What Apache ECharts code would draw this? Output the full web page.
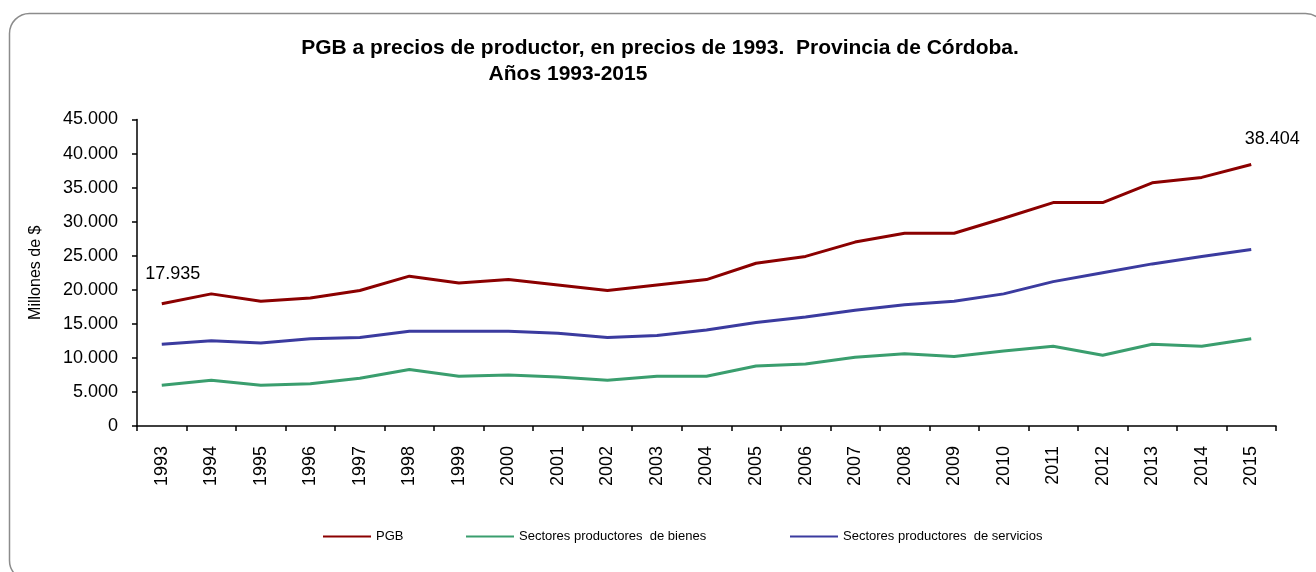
<!DOCTYPE html>
<html>
<head>
<meta charset="utf-8">
<script src="https://cdn.jsdelivr.net/npm/echarts@6/dist/echarts.min.js"></script>
<style>
html,body{margin:0;padding:0;background:#fff;}
#chart{width:1316px;height:572px;}
</style>
</head>
<body>
<div id="chart"></div>
<script>
const years = ['1993','1994','1995','1996','1997','1998','1999','2000','2001','2002','2003','2004','2005','2006','2007','2008','2009','2010','2011','2012','2013','2014','2015'];
const pgb = [17935,19400,18300,18800,19900,22000,21000,21500,20700,19900,20700,21500,23900,24900,27000,28300,28300,30500,32800,32800,35700,36500,38404];
const bienes = [6000,6700,6000,6200,7000,8300,7300,7500,7200,6700,7300,7300,8800,9100,10100,10600,10200,11000,11700,10400,12000,11700,12800];
const servicios = [12000,12500,12200,12800,13000,13900,13900,13900,13600,13000,13300,14100,15200,16000,17000,17800,18300,19400,21200,22500,23800,24900,25900];
const seriesNames = ['PGB','Sectores productores  de bienes','Sectores productores  de servicios'];

function fmt(v){
  return String(Math.round(v)).replace(/\B(?=(\d{3})+(?!\d))/g,'.');
}

const font = '"Liberation Sans", Arial, sans-serif';
const chart = echarts.init(document.getElementById('chart'), null, {renderer:'canvas'});

const pgbData = pgb.map((v,i)=>{
  if(i===0) return {value:v,label:{show:true,position:'top',offset:[11,-16]}};
  if(i===pgb.length-1) return {value:v,label:{show:true,position:'top',offset:[21,-11]}};
  return v;
});

function legendAt(name,left){
  return {
    data:[name], left:left, top:530, padding:0, icon:'rect', itemWidth:48, itemHeight:2,
    itemGap:0, textStyle:{fontFamily:font,fontSize:13,color:'#000'}, selectedMode:false
  };
}

chart.setOption({
  animation:false,
  backgroundColor:'#fff',
  graphic:[{
    type:'rect', silent:true,
    shape:{x:9.5,y:13.5,width:1316,height:567,r:20},
    style:{fill:'none',stroke:'#8c8c8c',lineWidth:1.5}
  }],
  title:[
    {text:'PGB a precios de productor, en precios de 1993.  Provincia de Córdoba.', left:660, top:38, padding:0, textAlign:'center',
     textStyle:{fontFamily:font,fontSize:21,fontWeight:'bold',color:'#000'}},
    {text:'Años 1993-2015', left:568, top:64, padding:0, textAlign:'center',
     textStyle:{fontFamily:font,fontSize:21,fontWeight:'bold',color:'#000'}}
  ],
  legend:[legendAt(seriesNames[0],323),legendAt(seriesNames[1],466),legendAt(seriesNames[2],790)],
  grid:{left:137,right:40,top:119.5,bottom:146,containLabel:false},
  xAxis:{
    type:'category', data:years, boundaryGap:true,
    axisLine:{lineStyle:{color:'#000',width:1.5}},
    axisTick:{show:true,inside:false,length:5,alignWithLabel:false,lineStyle:{color:'#000',width:1.5}},
    axisLabel:{rotate:90,margin:20,fontFamily:font,fontSize:18,color:'#000',interval:0},
    splitLine:{show:false}
  },
  yAxis:{
    type:'value', min:0, max:45000, interval:5000,
    name:'Millones de $', nameLocation:'middle', nameGap:93, nameRotate:90,
    nameTextStyle:{fontFamily:font,fontSize:16,color:'#000'},
    axisLine:{show:true,lineStyle:{color:'#000',width:1.5}},
    axisTick:{show:true,inside:false,length:5,lineStyle:{color:'#000',width:1.5}},
    axisLabel:{margin:19,fontFamily:font,fontSize:18,color:'#000',formatter:fmt},
    splitLine:{show:false}
  },
  series:[
    {name:seriesNames[0],type:'line',data:pgbData,symbol:'circle',symbolSize:0,showSymbol:true,z:3,
     lineStyle:{color:'#8b0000',width:3},itemStyle:{color:'#8b0000'},
     label:{show:false,fontFamily:font,fontSize:18,color:'#000',formatter:p=>fmt(p.value)}},
    {name:seriesNames[1],type:'line',data:bienes,symbol:'none',
     lineStyle:{color:'#3a9e6e',width:3},itemStyle:{color:'#3a9e6e'}},
    {name:seriesNames[2],type:'line',data:servicios,symbol:'none',
     lineStyle:{color:'#3b3b9f',width:3},itemStyle:{color:'#3b3b9f'}}
  ]
});
</script>
</body>
</html>
